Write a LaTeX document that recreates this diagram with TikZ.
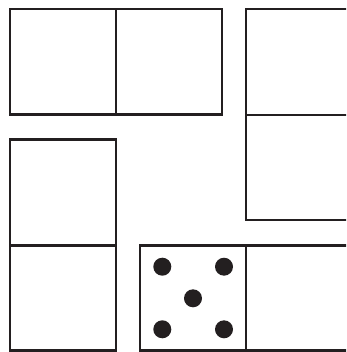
\documentclass[tikz,border=0pt]{standalone}
\definecolor{ink}{HTML}{231F20}
\tikzset{
  edge/.style={draw=ink, line width=2.4pt, line join=miter},
  pip/.style={fill=ink},
}
\begin{document}
\begin{tikzpicture}[x=1pt,y=-1pt]
\useasboundingbox (0,0) rectangle (346,352);
\clip (0,0) rectangle (346,352);
% top horizontal domino
\draw[edge] (10,9) rectangle (222,114.5);
\draw[edge] (116,9) -- (116,114.5);
% right vertical domino (cut by right edge)
\draw[edge] (360,9) -- (246,9) -- (246,220) -- (360,220);
\draw[edge] (246,115) -- (360,115);
% left vertical domino
\draw[edge] (10,139.5) rectangle (116,350.5);
\draw[edge] (10,245.5) -- (116,245.5);
% bottom horizontal domino (cut by right edge)
\draw[edge] (360,245.5) -- (140,245.5) -- (140,350.5) -- (360,350.5);
\draw[edge] (246,245.5) -- (246,350.5);
% pips
\fill[pip] (162.3,266.7) circle (9);
\fill[pip] (224,266.7) circle (9);
\fill[pip] (193,298.3) circle (9);
\fill[pip] (162.3,329.3) circle (9);
\fill[pip] (224,329.3) circle (9);
\end{tikzpicture}
\end{document}
